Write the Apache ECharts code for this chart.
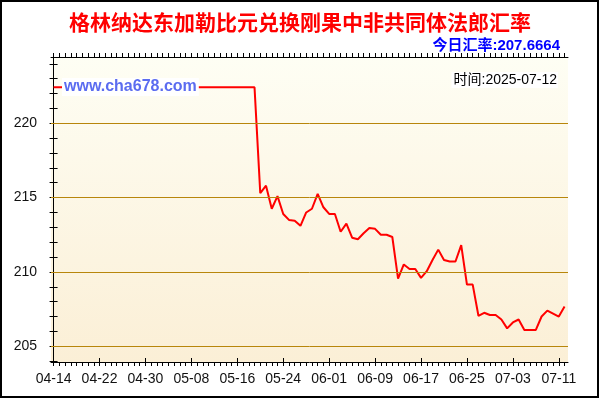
<!DOCTYPE html>
<html>
<head>
<meta charset="utf-8">
<script src="https://cdn.jsdelivr.net/npm/echarts@6/dist/echarts.min.js"></script>
<style>html,body{margin:0;padding:0;background:#fff}#c{width:600px;height:400px}</style>
</head>
<body>
<div id="c"></div>
<script>
const dates = [
'04-14','04-15','04-16','04-17','04-18','04-19','04-20','04-21','04-22','04-23','04-24','04-25','04-26','04-27','04-28','04-29','04-30',
'05-01','05-02','05-03','05-04','05-05','05-06','05-07','05-08','05-09','05-10','05-11','05-12','05-13','05-14','05-15','05-16','05-17','05-18','05-19','05-20','05-21','05-22','05-23','05-24','05-25','05-26','05-27','05-28','05-29','05-30','05-31',
'06-01','06-02','06-03','06-04','06-05','06-06','06-07','06-08','06-09','06-10','06-11','06-12','06-13','06-14','06-15','06-16','06-17','06-18','06-19','06-20','06-21','06-22','06-23','06-24','06-25','06-26','06-27','06-28','06-29','06-30',
'07-01','07-02','07-03','07-04','07-05','07-06','07-07','07-08','07-09','07-10','07-11','07-12'
];
const rates = [
222.42,222.42,222.42,222.42,222.42,222.42,222.42,222.42,222.42,222.42,
222.42,222.42,222.42,222.42,222.42,222.42,222.42,222.42,222.42,222.42,
222.42,222.42,222.42,222.42,222.42,222.42,222.42,222.42,222.42,222.42,
222.42,222.42,222.42,222.42,222.42,222.42,
215.3,215.8,214.25,215.1,213.9,213.5,213.45,213.1,214.0,214.25,
215.25,214.35,213.9,213.9,212.7,213.25,212.3,212.2,212.6,212.95,
212.9,212.5,212.5,212.35,209.55,210.5,210.2,210.2,209.6,210.05,
210.8,211.5,210.8,210.7,210.7,211.8,209.15,209.15,207.05,207.25,
207.1,207.1,206.8,206.2,206.6,206.8,206.1,206.1,206.1,207.0,
207.4,207.2,207.0,207.6664
];
const xTickLabels = ['04-14','04-22','04-30','05-08','05-16','05-24','06-01','06-09','06-17','06-25','07-03','07-11'];
const yTickValues = [205, 210, 215, 220];
const yMinorTicks = [204,205,206,207,208,209,210,211,212,213,214,215,216,217,218,219,220,221,222,223,224];
const titleText = '格林纳达东加勒比元兑换刚果中非共同体法郎汇率';
const todayText = '今日汇率:207.6664';
const siteText = 'www.cha678.com';
const timeText = '时间:2025-07-12';

const xMin = -0.45, xMax = 89.6, yMin = 203.94, yMax = 224.46;
const dayIdx = dates.map((d, i) => i);
const majorIdx = xTickLabels.map(l => dates.indexOf(l));
const FONT = "'Liberation Sans', Arial, 'Noto Sans CJK SC', sans-serif";

const chart = echarts.init(document.getElementById('c'), null, {renderer: 'canvas'});
const baseX = {type: 'value', min: xMin, max: xMax, splitLine: {show: false}, axisLabel: {show: false}};
const baseY = {type: 'value', min: yMin, max: yMax, splitLine: {show: false}, axisLabel: {show: false}};
chart.setOption({
  animation: false,
  backgroundColor: '#ffffff',
  title: [
    {text: titleText, left: 'center', top: 7,
     textStyle: {color: '#ff0000', fontSize: 21, fontWeight: 'bold', fontFamily: "'Noto Sans CJK SC', sans-serif"}},
    {text: todayText, right: 35, top: 33,
     textStyle: {color: '#0000ff', fontSize: 15, fontWeight: 'bold', fontFamily: FONT}}
  ],
  grid: {left: 51, right: 32, top: 57, bottom: 38, show: true, borderWidth: 0,
    backgroundColor: new echarts.graphic.LinearGradient(0, 0, 0, 1, [
      {offset: 0, color: '#fefef4'}, {offset: 1, color: '#fbefd6'}])},
  xAxis: [
    Object.assign({}, baseX, {position: 'bottom',
      axisLine: {show: true, lineStyle: {color: '#000', width: 1}},
      axisTick: {show: true, inside: false, length: 4, customValues: dayIdx, lineStyle: {color: '#000'}},
      axisLabel: {show: true, customValues: majorIdx, formatter: v => dates[Math.round(v)],
        fontSize: 14, color: '#111', fontFamily: FONT, margin: 10}}),
    Object.assign({}, baseX, {position: 'bottom',
      axisLine: {show: false},
      axisTick: {show: true, inside: true, length: 4, customValues: majorIdx, lineStyle: {color: '#000'}}}),
    Object.assign({}, baseX, {position: 'top',
      axisLine: {show: true, lineStyle: {color: '#000', width: 1}},
      axisTick: {show: true, inside: false, length: 4, customValues: dayIdx, lineStyle: {color: '#000'}}})
  ],
  yAxis: [
    Object.assign({}, baseY, {position: 'left',
      axisLine: {show: true, lineStyle: {color: '#000', width: 1}},
      axisTick: {show: true, inside: false, length: 4, customValues: yMinorTicks, lineStyle: {color: '#000'}},
      axisLabel: {show: true, customValues: yTickValues, fontSize: 14, color: '#111', fontFamily: FONT, margin: 14}}),
    Object.assign({}, baseY, {position: 'left',
      axisLine: {show: false},
      axisTick: {show: true, inside: true, length: 5, customValues: yTickValues, lineStyle: {color: '#000'}}}),
    Object.assign({}, baseY, {position: 'right',
      axisLine: {show: true, lineStyle: {color: '#000', width: 1}},
      axisTick: {show: true, inside: false, length: 4, customValues: yMinorTicks, lineStyle: {color: '#000'}}})
  ],
  series: [
    {type: 'line', data: [], z: 1, silent: true,
     markLine: {silent: true, symbol: 'none', animation: false, label: {show: false},
       lineStyle: {color: '#b8860b', width: 1, type: 'solid'},
       emphasis: {disabled: true},
       data: yTickValues.map(v => ({yAxis: v}))}},
    {type: 'line', z: 3, data: rates.map((v, i) => [i, v]), showSymbol: false, symbol: 'none',
     lineStyle: {color: '#ff0000', width: 2}, itemStyle: {color: '#ff0000'}}
  ],
  graphic: [
    {type: 'text', z: 100, left: 62, top: 78,
     style: {text: siteText, fill: '#5b6cf0', font: "bold 16px " + FONT, backgroundColor: '#ffffff', padding: [1, 2, 1, 2]}},
    {type: 'text', z: 100, right: 42, top: 72,
     style: {text: timeText, fill: '#000', font: "14px " + FONT, backgroundColor: '#ffffff', padding: [1, 1, 1, 2]}},
    {type: 'rect', z: 100, silent: true, shape: {x: 1, y: 1, width: 597, height: 396},
     style: {fill: null, stroke: '#000', lineWidth: 2}}
  ]
});
</script>
</body>
</html>
